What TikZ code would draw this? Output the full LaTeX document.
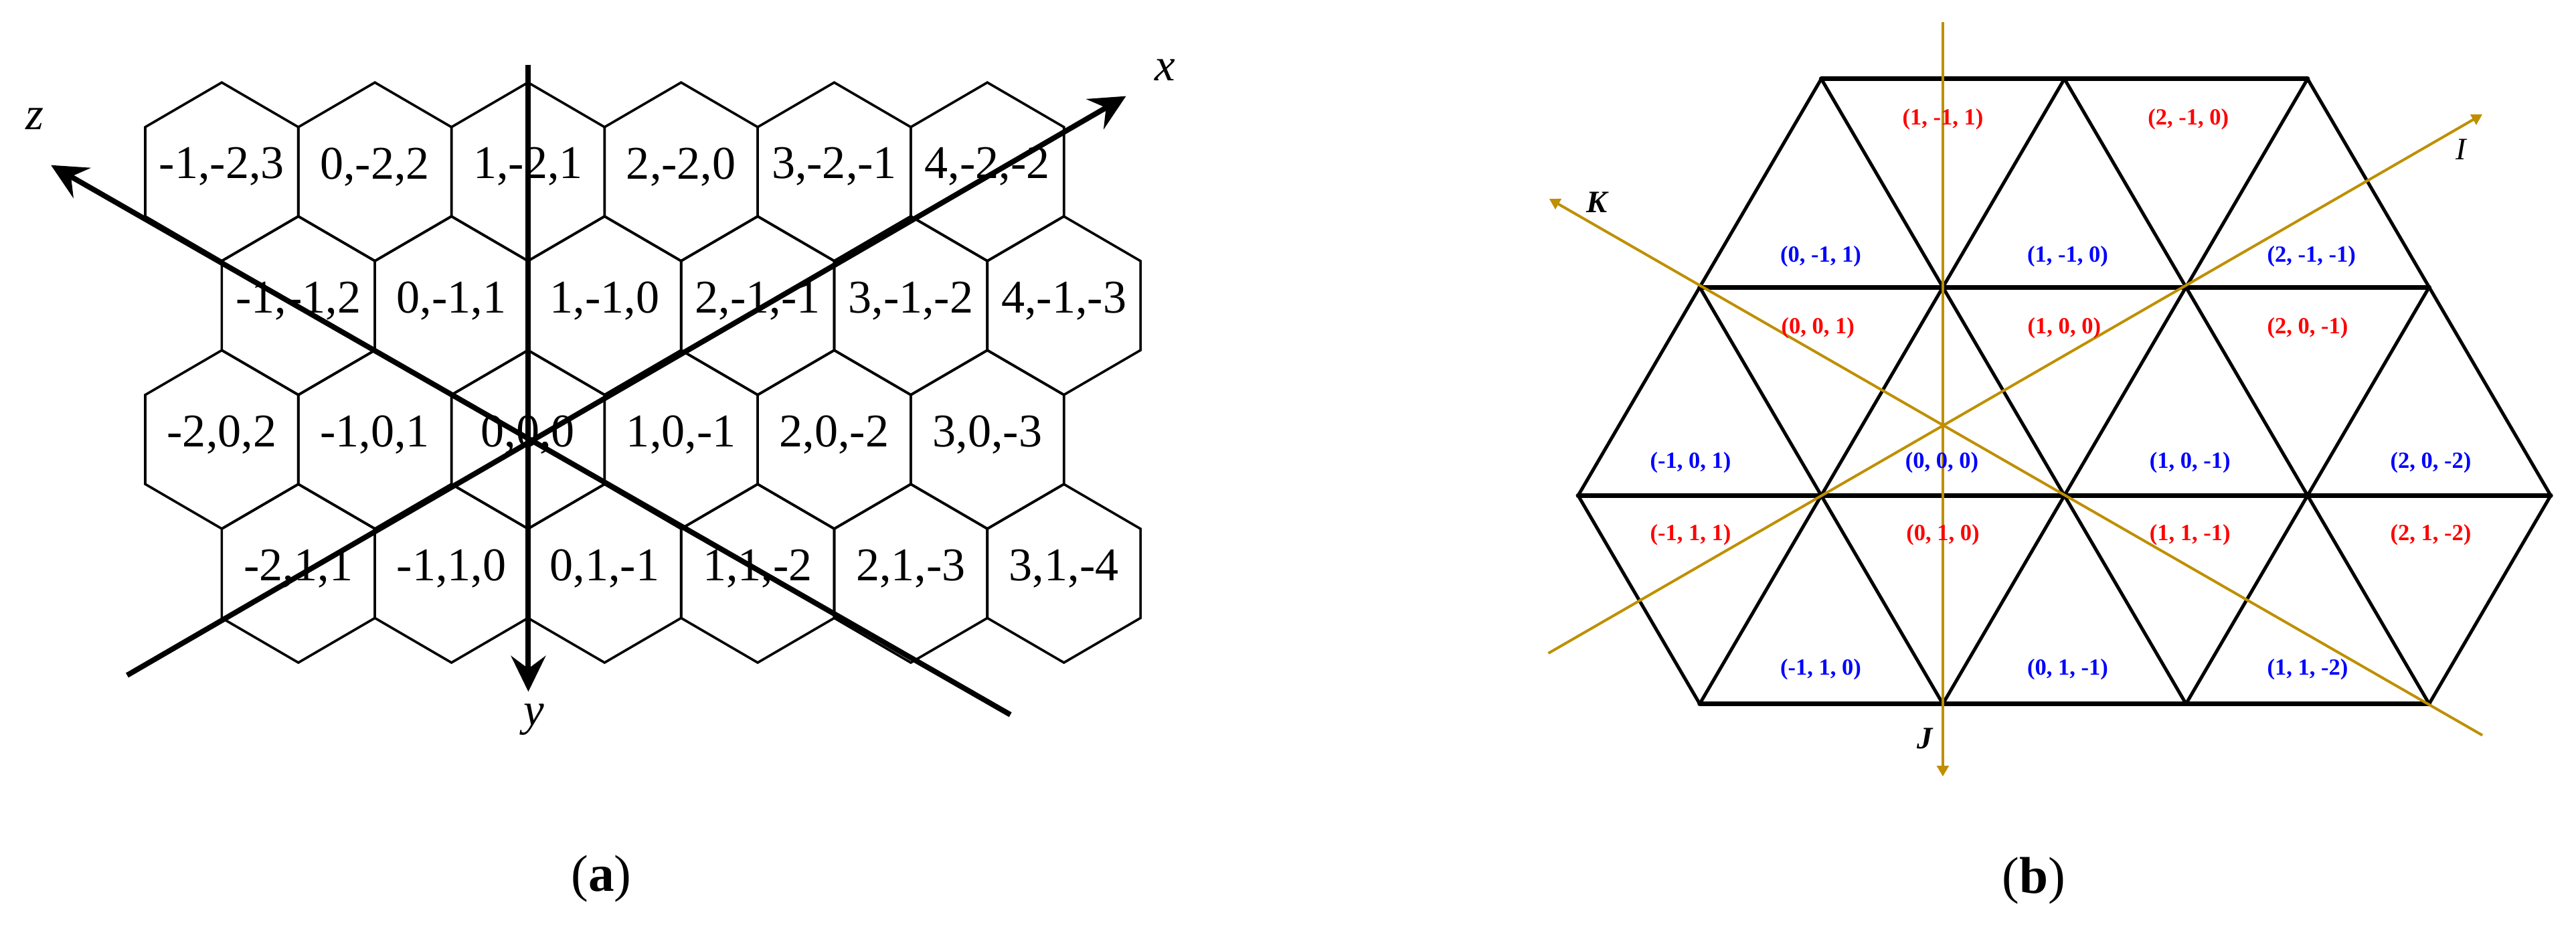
\documentclass[tikz,border=0pt]{standalone}
\usepackage{fontspec}
\setmainfont{Liberation Serif}
\usetikzlibrary{arrows.meta}
\definecolor{gold}{RGB}{191,143,0}
\definecolor{tred}{RGB}{255,0,0}
\definecolor{tblue}{RGB}{0,0,255}
\def\hw{46.6}
\def\hs{54.3}
\newcommand{\hexcell}[4]{%
  \draw[hexline] (#2,#3) +(0,-\hs) -- +(\hw,-\hs/2) -- +(\hw,\hs/2) -- +(0,\hs) -- +(-\hw,\hs/2) -- +(-\hw,-\hs/2) -- cycle;
  \node[hexlabel] (#1) at (#2,#3-3) {#4};
}
\tikzset{
  hexline/.style={line width=1.05pt, line join=miter},
  hexlabel/.style={font=\fontsize{20.3}{24}\selectfont, inner sep=0pt},
  axisA/.style={line width=2.3pt, -{Stealth[length=15.5pt, width=15pt, inset=5.5pt]}},
  axlab/.style={font=\fontsize{20}{24}\selectfont\itshape, inner sep=0pt},
  panlab/.style={font=\fontsize{22.4}{26}\selectfont, inner sep=0pt},
  triH/.style={line width=2pt, line cap=round},
  triD/.style={line width=1.45pt, line cap=round},
  goldax/.style={draw=gold, line width=1.15pt, -{Triangle[length=4.6pt, width=5pt]}},
  tlab/.style={font=\fontsize{10}{12}\selectfont\bfseries, inner sep=0pt},
  redlab/.style={tlab, text=tred},
  bluelab/.style={tlab, text=tblue},
  ijk/.style={font=\fontsize{13.5}{16}\selectfont\itshape, inner sep=0pt},
  ijkb/.style={font=\fontsize{13.5}{16}\selectfont\bfseries\itshape, inner sep=0pt}
}
\begin{document}
\begin{tikzpicture}[x=0.025cm, y=-0.025cm]
\useasboundingbox (0,0) rectangle (1568,562.6);
% ---------------- panel (a): hexagon grid ----------------
% row 0
\hexcell{a00}{135+0*93.2}{104.5}{-1,-2,3}
\hexcell{a01}{135+1*93.2}{104.5}{0,-2,2}
\hexcell{a02}{135+2*93.2}{104.5}{1,-2,1}
\hexcell{a03}{135+3*93.2}{104.5}{2,-2,0}
\hexcell{a04}{135+4*93.2}{104.5}{3,-2,-1}
\hexcell{a05}{135+5*93.2}{104.5}{4,-2,-2}
% row 1
\hexcell{a10}{181.6+0*93.2}{186}{-1,-1,2}
\hexcell{a11}{181.6+1*93.2}{186}{0,-1,1}
\hexcell{a12}{181.6+2*93.2}{186}{1,-1,0}
\hexcell{a13}{181.6+3*93.2}{186}{2,-1,-1}
\hexcell{a14}{181.6+4*93.2}{186}{3,-1,-2}
\hexcell{a15}{181.6+5*93.2}{186}{4,-1,-3}
% row 2
\hexcell{a20}{135+0*93.2}{267.5}{-2,0,2}
\hexcell{a21}{135+1*93.2}{267.5}{-1,0,1}
\hexcell{a22}{135+2*93.2}{267.5}{0,0,0}
\hexcell{a23}{135+3*93.2}{267.5}{1,0,-1}
\hexcell{a24}{135+4*93.2}{267.5}{2,0,-2}
\hexcell{a25}{135+5*93.2}{267.5}{3,0,-3}
% row 3
\hexcell{a30}{181.6+0*93.2}{349}{-2,1,1}
\hexcell{a31}{181.6+1*93.2}{349}{-1,1,0}
\hexcell{a32}{181.6+2*93.2}{349}{0,1,-1}
\hexcell{a33}{181.6+3*93.2}{349}{1,1,-2}
\hexcell{a34}{181.6+4*93.2}{349}{2,1,-3}
\hexcell{a35}{181.6+5*93.2}{349}{3,1,-4}
% axes
\coordinate (xs) at (77.4,411);
\coordinate (xe) at (685.4,58.5);
\coordinate (zs) at (615,435);
\coordinate (ze) at (31,100.5);
\coordinate (ys) at (321.6,39.4);
\coordinate (ye) at (321.6,421);
\draw[axisA] (xs) -- (xe);
\draw[axisA] (zs) -- (ze);
\draw[axisA] (ys) -- (ye);
\node[axlab] (lx) at (709,42.5) {x};
\node[axlab] (ly) at (325,438) {y};
\node[axlab] (lz) at (21,72.5) {z};
\node[panlab] (pa) at (366,535) {(\textbf{a})};
% ---------------- panel (b): triangle grid ----------------
\coordinate (t1) at (1108.6,48);
\coordinate (t2) at (1256.6,48);
\coordinate (t3) at (1404.6,48);
\coordinate (u1) at (1034.6,174.8);
\coordinate (u2) at (1182.6,174.8);
\coordinate (u3) at (1330.6,174.8);
\coordinate (u4) at (1478.6,174.8);
\coordinate (v1) at (960.6,301.6);
\coordinate (v2) at (1108.6,301.6);
\coordinate (v3) at (1256.6,301.6);
\coordinate (v4) at (1404.6,301.6);
\coordinate (v5) at (1552.6,301.6);
\coordinate (w1) at (1034.6,428.4);
\coordinate (w2) at (1182.6,428.4);
\coordinate (w3) at (1330.6,428.4);
\coordinate (w4) at (1478.6,428.4);
% diagonals
\draw[triD] (v1) -- (t1);
\draw[triD] (w1) -- (t2);
\draw[triD] (w2) -- (t3);
\draw[triD] (w3) -- (u4);
\draw[triD] (w4) -- (v5);
\draw[triD] (v1) -- (w1);
\draw[triD] (u1) -- (w2);
\draw[triD] (t1) -- (w3);
\draw[triD] (t2) -- (w4);
\draw[triD] (t3) -- (v5);
% horizontals
\draw[triH] (t1) -- (t3);
\draw[triH] (u1) -- (u4);
\draw[triH] (v1) -- (v5);
\draw[triH] (w1) -- (w4);
% gold axes
\coordinate (Js) at (1182.6,13.6);
\coordinate (Je) at (1182.6,472.6);
\coordinate (Is) at (942.5,397.6);
\coordinate (Ie) at (1511,69.6);
\coordinate (Ks) at (1511,447.5);
\coordinate (Ke) at (943,121);
\draw[goldax] (Js) -- (Je);
\draw[goldax] (Is) -- (Ie);
\draw[goldax] (Ks) -- (Ke);
\node[ijkb] (lK) at (972,123) {K};
\node[ijk] (lI) at (1498,91) {I};
\node[ijkb] (lJ) at (1171.5,449.5) {J};
% red labels
\node[redlab] (r1) at (1182.6,72.5) {(1, -1, 1)};
\node[redlab] (r2) at (1332,72.5) {(2, -1, 0)};
\node[redlab] (r3) at (1106.5,199.5) {(0, 0, 1)};
\node[redlab] (r4) at (1256.5,199.5) {(1, 0, 0)};
\node[redlab] (r5) at (1404.6,199.5) {(2, 0, -1)};
\node[redlab] (r6) at (1029,325.7) {(-1, 1, 1)};
\node[redlab] (r7) at (1182.6,325.7) {(0, 1, 0)};
\node[redlab] (r8) at (1333,325.7) {(1, 1, -1)};
\node[redlab] (r9) at (1479.6,325.7) {(2, 1, -2)};
% blue labels
\node[bluelab] (b1) at (1108.3,156) {(0, -1, 1)};
\node[bluelab] (b2) at (1258.6,156) {(1, -1, 0)};
\node[bluelab] (b3) at (1407,156) {(2, -1, -1)};
\node[bluelab] (b4) at (1029,281.7) {(-1, 0, 1)};
\node[bluelab] (b5) at (1182,281.7) {(0, 0, 0)};
\node[bluelab] (b6) at (1333,281.7) {(1, 0, -1)};
\node[bluelab] (b7) at (1479.6,281.7) {(2, 0, -2)};
\node[bluelab] (b8) at (1108.3,407.3) {(-1, 1, 0)};
\node[bluelab] (b9) at (1258.6,407.3) {(0, 1, -1)};
\node[bluelab] (b10) at (1404.6,407.3) {(1, 1, -2)};
\node[panlab] (pb) at (1238,536) {(\textbf{b})};
\end{tikzpicture}
\end{document}
